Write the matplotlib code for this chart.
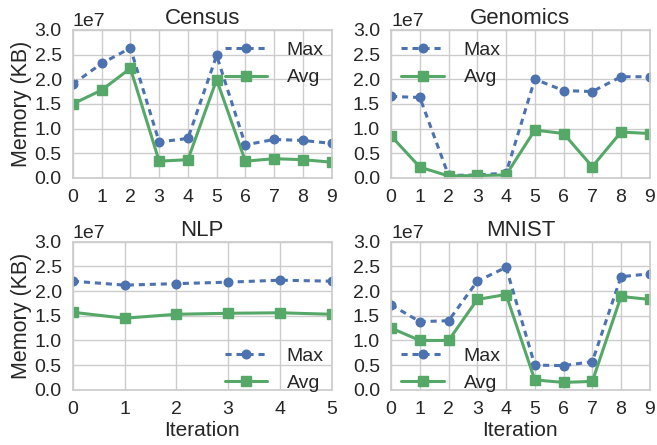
import matplotlib
matplotlib.use("Agg")
import matplotlib.pyplot as plt
import seaborn as sns

sns.set_theme(style="whitegrid")
plt.rcParams['font.family'] = ['Liberation Sans', 'DejaVu Sans']

titles = ["Census", "Genomics", "NLP", "MNIST"]

census_max = [1.90, 2.32, 2.63, 0.73, 0.80, 2.48, 0.67, 0.78, 0.76, 0.70]
census_avg = [1.50, 1.78, 2.22, 0.34, 0.37, 1.99, 0.34, 0.39, 0.37, 0.32]

genomics_max = [1.65, 1.63, 0.05, 0.06, 0.10, 2.00, 1.77, 1.75, 2.05, 2.05]
genomics_avg = [0.85, 0.22, 0.04, 0.05, 0.06, 0.97, 0.90, 0.23, 0.93, 0.90]

nlp_max = [2.20, 2.12, 2.15, 2.18, 2.22, 2.20]
nlp_avg = [1.57, 1.45, 1.53, 1.55, 1.56, 1.53]

mnist_max = [1.72, 1.38, 1.40, 2.20, 2.48, 0.50, 0.49, 0.57, 2.29, 2.35]
mnist_avg = [1.25, 1.00, 1.00, 1.83, 1.93, 0.20, 0.15, 0.17, 1.89, 1.83]

scale = 1e7
series = [(census_max, census_avg), (genomics_max, genomics_avg),
          (nlp_max, nlp_avg), (mnist_max, mnist_avg)]
legend_locs = ["upper right", "upper left", "lower right", "lower left"]
legend_anchors = [(1, 0.974), (0.01, 0.974), (1, -0.069), (0.01, -0.069)]

blue = "#4C72B0"
green = "#55A868"

fig, axes = plt.subplots(2, 2, figsize=(6.57, 4.45), dpi=100)
fig.subplots_adjust(left=0.111, right=0.989, top=0.933, bottom=0.124,
                    wspace=0.23, hspace=0.43)

for i, ax in enumerate(axes.flat):
    mx, av = series[i]
    xs = list(range(len(mx)))
    ax.plot(xs, [v * scale for v in mx], linestyle='--', dashes=(2.0, 1.6),
            marker='o', color=blue, lw=2.2, ms=6.2, label="Max")
    ax.plot(xs, [v * scale for v in av], '-s', color=green, lw=2.2, ms=6.5,
            label="Avg")
    ax.set_xlim(0, len(mx) - 1)
    ax.set_ylim(0, 3.0e7)
    ax.set_xticks(xs)
    ax.set_yticks([v * 1e7 for v in [0, 0.5, 1.0, 1.5, 2.0, 2.5, 3.0]])
    ax.ticklabel_format(axis='y', style='sci', scilimits=(7, 7))
    ax.yaxis.get_offset_text().set_fontsize(14)
    ax.tick_params(labelsize=14, pad=2, colors='#262626')
    ax.set_title(titles[i], fontsize=16, pad=4, color='#262626')
    ax.legend(loc=legend_locs[i], bbox_to_anchor=legend_anchors[i],
              frameon=False, fontsize=14, handlelength=2.2,
              handletextpad=1.0, borderaxespad=0.0, labelspacing=0.5)
    if i % 2 == 0:
        ax.set_ylabel("Memory (KB)", fontsize=15.5, color='#262626', labelpad=2)
    if i >= 2:
        ax.set_xlabel("Iteration", fontsize=15, color='#262626', labelpad=2)
    for s in ax.spines.values():
        s.set_color('#cccccc')

fig.savefig("out.png", dpi=100)
